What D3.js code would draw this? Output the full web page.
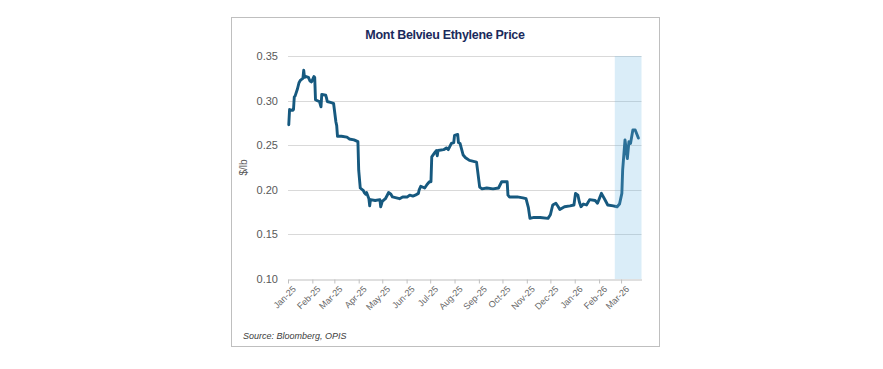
<!DOCTYPE html>
<html>
<head>
<meta charset="utf-8">
<script src="https://cdn.jsdelivr.net/npm/d3@7"></script>
<style>
  html, body { margin: 0; padding: 0; background: #ffffff; }
  svg { display: block; }
</style>
</head>
<body>
<svg id="chart" width="883" height="369"></svg>
<script>
const titleText = "Mont Belvieu Ethylene Price";
const yAxisLabel = "$/lb";
const sourceText = "Source: Bloomberg, OPIS";
const yTicks = [0.10, 0.15, 0.20, 0.25, 0.30, 0.35];
const xDomain = ["2025-01-01", "2026-03-27"];
const highlightRange = ["2026-02-21", "2026-03-27"];

const dates = [
"2025-01-02","2025-01-03","2025-01-07","2025-01-08","2025-01-09","2025-01-10","2025-01-13","2025-01-15","2025-01-17","2025-01-20",
"2025-01-21","2025-01-22","2025-01-24","2025-01-27","2025-01-29","2025-01-31","2025-02-03","2025-02-04","2025-02-05","2025-02-07",
"2025-02-10","2025-02-11","2025-02-12","2025-02-13","2025-02-18","2025-02-19","2025-02-20","2025-02-24","2025-02-28","2025-03-03",
"2025-03-04","2025-03-05","2025-03-10","2025-03-17","2025-03-20","2025-03-26","2025-03-31","2025-04-01","2025-04-03","2025-04-07",
"2025-04-08","2025-04-10","2025-04-11","2025-04-14","2025-04-15","2025-04-16","2025-04-22","2025-04-28","2025-04-29","2025-05-01",
"2025-05-05","2025-05-08","2025-05-09","2025-05-12","2025-05-14","2025-05-19","2025-05-23","2025-05-27","2025-06-02","2025-06-05",
"2025-06-09","2025-06-12","2025-06-16","2025-06-17","2025-06-19","2025-06-24","2025-06-27","2025-06-30","2025-07-02","2025-07-03",
"2025-07-07","2025-07-09","2025-07-10","2025-07-11","2025-07-18","2025-07-22","2025-07-24","2025-07-28","2025-07-31","2025-08-01",
"2025-08-05","2025-08-06","2025-08-08","2025-08-12","2025-08-15","2025-08-20","2025-08-29","2025-09-02","2025-09-05","2025-09-11",
"2025-09-19","2025-09-26","2025-09-30","2025-10-07","2025-10-08","2025-10-10","2025-10-20","2025-10-27","2025-10-31","2025-11-03",
"2025-11-05","2025-11-10","2025-11-18","2025-11-28","2025-12-01","2025-12-04","2025-12-08","2025-12-11","2025-12-13","2025-12-19",
"2025-12-26","2025-12-31","2026-01-02","2026-01-05","2026-01-07","2026-01-09","2026-01-12","2026-01-16","2026-01-20","2026-01-27",
"2026-01-30","2026-02-04","2026-02-09","2026-02-12","2026-02-19","2026-02-24","2026-02-27","2026-03-02","2026-03-03","2026-03-06",
"2026-03-09","2026-03-11","2026-03-13","2026-03-16","2026-03-19","2026-03-23"
];
const prices = [
0.273,0.290,0.289,0.290,0.304,0.305,0.313,0.320,0.323,0.325,
0.334,0.326,0.327,0.326,0.322,0.321,0.327,0.326,0.301,0.300,
0.299,0.296,0.293,0.307,0.306,0.303,0.299,0.298,0.297,0.276,
0.272,0.260,0.260,0.259,0.257,0.256,0.254,0.222,0.202,0.199,
0.197,0.195,0.197,0.190,0.182,0.189,0.188,0.189,0.181,0.187,
0.190,0.195,0.197,0.195,0.192,0.191,0.190,0.192,0.192,0.194,
0.193,0.194,0.196,0.200,0.204,0.202,0.206,0.209,0.209,0.237,
0.242,0.244,0.238,0.244,0.245,0.247,0.245,0.252,0.253,0.261,
0.262,0.253,0.252,0.239,0.236,0.233,0.231,0.203,0.201,0.202,
0.201,0.202,0.209,0.209,0.194,0.192,0.192,0.191,0.190,0.180,
0.168,0.169,0.169,0.168,0.172,0.183,0.185,0.181,0.178,0.181,
0.182,0.183,0.196,0.194,0.186,0.181,0.184,0.183,0.189,0.188,
0.185,0.196,0.188,0.183,0.182,0.181,0.184,0.196,0.222,0.256,
0.235,0.254,0.252,0.267,0.267,0.258
];

const parse = d3.timeParse("%Y-%m-%d");
const data = dates.map((d, i) => ({ date: parse(d), value: prices[i] }));

const svg = d3.select("#chart");
const plot = { left: 288, right: 641.5, top: 56, bottom: 279 };

const x = d3.scaleTime().domain(xDomain.map(parse)).range([plot.left, plot.right]);
const y = d3.scaleLinear().domain([0.10, 0.35]).range([plot.bottom, plot.top]);

// Frame
svg.append("rect")
  .attr("x", 231.5).attr("y", 17.5).attr("width", 428).attr("height", 329)
  .attr("fill", "#ffffff").attr("stroke", "#bfbfbf").attr("stroke-width", 1);

// Title
svg.append("text")
  .attr("x", 445).attr("y", 39)
  .attr("text-anchor", "middle")
  .attr("font-family", "'Liberation Sans', Arial, sans-serif")
  .attr("font-size", 12.5).attr("font-weight", "bold")
  .attr("fill", "#1a2a5c")
  .attr("letter-spacing", -0.3)
  .text(titleText);

// Gridlines
svg.append("g").selectAll("line")
  .data(yTicks.filter(t => t > 0.10))
  .join("line")
  .attr("x1", plot.left).attr("x2", plot.right)
  .attr("y1", d => Math.round(y(d)) + 0.5).attr("y2", d => Math.round(y(d)) + 0.5)
  .attr("stroke", "#d9d9d9").attr("stroke-width", 1);

// Y axis labels
const yAxis = d3.axisLeft(y).tickValues(yTicks).tickFormat(d3.format(".2f")).tickSize(0).tickPadding(10);
const gy = svg.append("g").attr("transform", `translate(${plot.left},0)`).call(yAxis);
gy.select(".domain").remove();
gy.selectAll("text")
  .attr("font-family", "'Liberation Sans', Arial, sans-serif")
  .attr("font-size", 11).attr("fill", "#595959");

// X axis
const xAxis = d3.axisBottom(x)
  .ticks(d3.timeMonth.every(1))
  .tickFormat(d3.timeFormat("%b-%y"))
  .tickSizeInner(4).tickSizeOuter(0).tickPadding(2);
const gx = svg.append("g").attr("transform", `translate(0,${Math.round(plot.bottom) + 0.5})`).call(xAxis);
gx.select(".domain").attr("stroke", "#bfbfbf");
gx.selectAll(".tick line").attr("stroke", "#bfbfbf");
gx.selectAll("text")
  .attr("font-family", "'Liberation Sans', Arial, sans-serif")
  .attr("font-size", 9).attr("fill", "#666666")
  .attr("text-anchor", "end")
  .attr("dy", "0.3em")
  .attr("transform", "translate(2,4) rotate(-45)");

// Line
const line = d3.line().x(d => x(d.date)).y(d => y(d.value));
svg.append("path")
  .datum(data)
  .attr("d", line)
  .attr("fill", "none")
  .attr("stroke", "#16597f")
  .attr("stroke-width", 2.9)
  .attr("stroke-linejoin", "round")
  .attr("stroke-linecap", "round");

// Highlight band (drawn over the line, semi-transparent)
svg.append("rect")
  .attr("x", x(parse(highlightRange[0])))
  .attr("width", x(parse(highlightRange[1])) - x(parse(highlightRange[0])))
  .attr("y", plot.top).attr("height", plot.bottom - plot.top)
  .attr("fill", "rgb(107,183,227)").attr("fill-opacity", 0.25);

// Y axis title
svg.append("text")
  .attr("transform", `translate(247,${(plot.top + plot.bottom) / 2}) rotate(-90)`)
  .attr("text-anchor", "middle")
  .attr("font-family", "'Liberation Sans', Arial, sans-serif")
  .attr("font-size", 10).attr("fill", "#595959")
  .text(yAxisLabel);

// Source
svg.append("text")
  .attr("x", 243).attr("y", 339)
  .attr("font-family", "'Liberation Sans', Arial, sans-serif")
  .attr("font-size", 9).attr("font-style", "italic").attr("fill", "#404040")
  .text(sourceText);
</script>
</body>
</html>
